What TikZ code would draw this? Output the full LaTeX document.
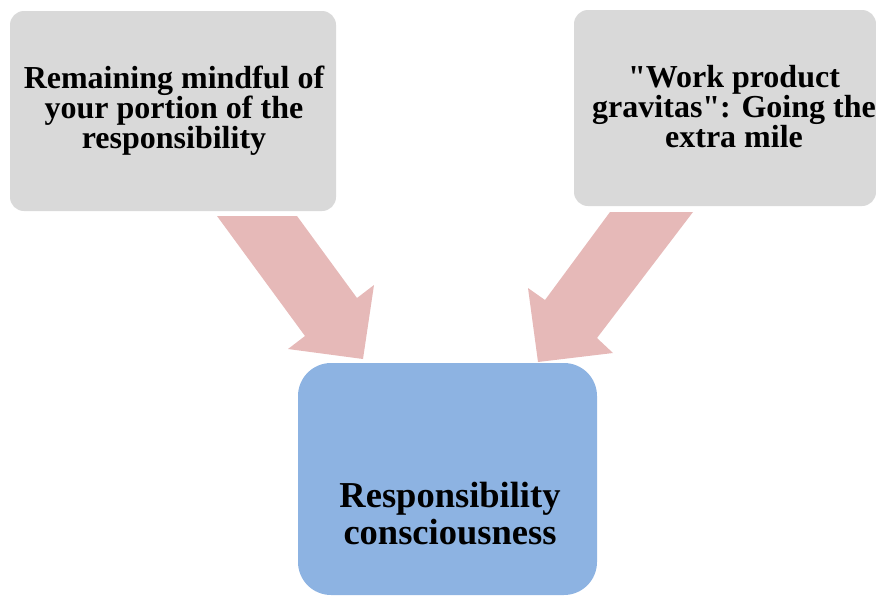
\documentclass[tikz,border=0pt]{standalone}
\usepackage{fontspec}
\setmainfont{Liberation Serif}[Ligatures=TeXOff]
\definecolor{boxgray}{HTML}{D9D9D9}
\definecolor{arrowpink}{HTML}{E6B9B8}
\definecolor{boxblue}{HTML}{8DB3E2}
\tikzset{
  topbox/.style={fill=boxgray, draw=none, rounded corners=14pt, inner sep=0pt},
  mainbox/.style={fill=boxblue, draw=none, rounded corners=33pt, inner sep=0pt},
  toptext/.style={align=center, inner sep=0pt, font=\bfseries\fontsize{32}{30}\selectfont, anchor=base},
  maintext/.style={align=center, inner sep=0pt, font=\bfseries\fontsize{36.5}{36.5}\selectfont, anchor=base},
  blockarrow/.style={fill=arrowpink, draw=none}
}
\begin{document}
\begin{tikzpicture}[x=1pt,y=-1pt]
\useasboundingbox (0,0) rectangle (876,595);
% boxes
\node[topbox, minimum width=326pt, minimum height=200pt] (left) at (173,111) {};
\node[topbox, minimum width=302pt, minimum height=196pt] (right) at (725,108) {};
\node[mainbox, minimum width=299pt, minimum height=232pt] (main) at (447.5,479) {};
% arrows
\fill[blockarrow] (217,216) -- (297,216) -- (357,298) -- (374,285) -- (363,359) -- (288,349) -- (305,336) -- cycle;
\fill[blockarrow] (610,212) -- (693,212) -- (597,338) -- (613,353) -- (538,362) -- (528,288) -- (545,300) -- cycle;
% texts (base anchor = baseline of last line)
\node[toptext] (lefttext) at (174,148) {Remaining mindful of\\your portion of the\\responsibility};
\node[toptext] (righttext) at (734,147) {"Work product\\gravitas": Going the\\extra mile};
\node[maintext] (maintxt) at (450,544) {Responsibility\\consciousness};
\end{tikzpicture}
\end{document}
